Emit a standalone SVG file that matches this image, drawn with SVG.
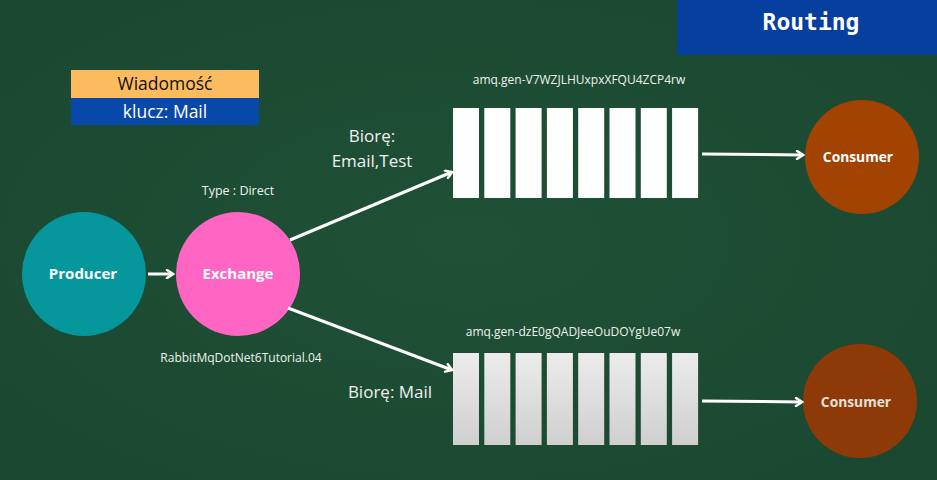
<svg xmlns="http://www.w3.org/2000/svg" width="937" height="480" viewBox="0 0 937 480">
<defs>
<marker id="ah" markerWidth="10" markerHeight="10" refX="8" refY="5" orient="auto" markerUnits="userSpaceOnUse">
<path d="M2,1 L8,5 L2,9" fill="none" stroke="#ffffff" stroke-width="2.5" stroke-linecap="round"/>
</marker>
<linearGradient id="qg" x1="0" y1="0" x2="0" y2="1">
<stop offset="0" stop-color="#ececec"/>
<stop offset="1" stop-color="#cfcfcf"/>
</linearGradient>
<radialGradient id="bg" cx="0.5" cy="0.5" r="0.75">
<stop offset="0" stop-color="#1f5136"/>
<stop offset="1" stop-color="#1a4630"/>
</radialGradient>
</defs>
<style>
.t{font-family:"Open Sans","Noto Sans",sans-serif;fill:#ffffff}
.sm{font-size:12.5px;fill:#eef2ee}
.q{font-size:12px;fill:#eef2ee}
.lb{font-size:17px;fill:#f0f0f0}
.nd{font-size:15px;font-weight:bold;fill:#ffffff;text-anchor:middle}
.c{stroke:#ffffff;stroke-width:3;fill:none;marker-end:url(#ah)}
</style>
<rect width="937" height="480" fill="url(#bg)"/>

<g id="title">
<rect x="677" y="0" width="260" height="55" fill="#063f9e"/>
<text x="811" y="30" font-family="'DejaVu Sans Mono',monospace" font-weight="bold" font-size="23" fill="#ffffff" text-anchor="middle">Routing</text>
</g>

<g id="message">
<rect x="71" y="70" width="188" height="28" fill="#fbbb5e"/>
<rect x="71" y="98" width="188" height="27" fill="#0848aa"/>
<text x="165" y="90" class="t" font-size="17.5" style="fill:#111" text-anchor="middle">Wiadomość</text>
<text x="165" y="118" class="t" font-size="17.5" text-anchor="middle">klucz: Mail</text>
</g>

<g id="producer">
<circle cx="84" cy="274" r="62" fill="#05979c"/>
<text x="83" y="279" class="t nd">Producer</text>
</g>

<g id="exchange">
<circle cx="238" cy="274" r="62" fill="#ff66c4"/>
<text x="238" y="279" class="t nd">Exchange</text>
<text x="238" y="195" class="t sm" text-anchor="middle">Type : Direct</text>
<text x="241" y="362" class="t q" text-anchor="middle">RabbitMqDotNet6Tutorial.04</text>
</g>

<g id="queue1">
<text x="579" y="84" class="t q" text-anchor="middle">amq.gen-V7WZJLHUxpxXFQU4ZCP4rw</text>
<g fill="#ffffff">
<rect x="453" y="108" width="26" height="90"/>
<rect x="484.3" y="108" width="26" height="90"/>
<rect x="515.6" y="108" width="26" height="90"/>
<rect x="546.9" y="108" width="26" height="90"/>
<rect x="578.2" y="108" width="26" height="90"/>
<rect x="609.5" y="108" width="26" height="90"/>
<rect x="640.8" y="108" width="26" height="90"/>
<rect x="672.1" y="108" width="26" height="90"/>
</g>
</g>

<g id="queue2">
<text x="573" y="336" class="t q" text-anchor="middle">amq.gen-dzE0gQADJeeOuDOYgUe07w</text>
<g fill="url(#qg)">
<rect x="453" y="353" width="26" height="92"/>
<rect x="484.3" y="353" width="26" height="92"/>
<rect x="515.6" y="353" width="26" height="92"/>
<rect x="546.9" y="353" width="26" height="92"/>
<rect x="578.2" y="353" width="26" height="92"/>
<rect x="609.5" y="353" width="26" height="92"/>
<rect x="640.8" y="353" width="26" height="92"/>
<rect x="672.1" y="353" width="26" height="92"/>
</g>
</g>

<g id="consumer1">
<circle cx="862" cy="157" r="57" fill="#a24302"/>
<text x="858" y="162" class="t nd" style="font-size:13.8px">Consumer</text>
</g>

<g id="consumer2">
<circle cx="860" cy="401" r="57" fill="#8e3a08"/>
<text x="856" y="407" class="t nd" style="font-size:13.8px;fill:#e8e0d8">Consumer</text>
</g>

<g id="connectors">
<line x1="148" y1="274" x2="173" y2="274" class="c"/>
<line x1="290" y1="240" x2="452" y2="172" class="c"/>
<line x1="288" y1="308" x2="452" y2="370" class="c"/>
<line x1="702" y1="154" x2="803" y2="155" class="c"/>
<line x1="702" y1="401" x2="802" y2="402" class="c"/>
</g>

<g id="labels">
<text x="372" y="142" class="t lb" text-anchor="middle">Biorę:</text>
<text x="372" y="167" class="t lb" text-anchor="middle">Email,Test</text>
<text x="390" y="398" class="t lb" text-anchor="middle">Biorę: Mail</text>
</g>
</svg>
